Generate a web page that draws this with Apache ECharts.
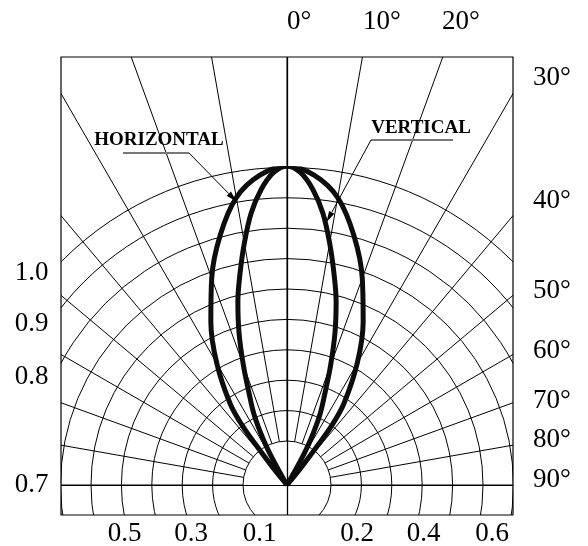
<!DOCTYPE html>
<html>
<head>
<meta charset="utf-8">
<script src="https://cdn.jsdelivr.net/npm/echarts@6.0.0/dist/echarts.min.js"></script>
<style>
html, body { margin: 0; padding: 0; background: #fff; }
#chart { width: 588px; height: 546px; }
</style>
</head>
<body>
<div id="chart"></div>
<script>
// relative intensity vs. angle (deg, 0 = straight up)
var hAngles = [-40, -39, -38, -37, -35, -30, -25, -20, -15, -10, -5, 0, 5, 10, 15, 20, 25, 30, 35, 37, 38, 39, 40];
var hValues = [0, 0.07, 0.14, 0.23, 0.31, 0.44, 0.565, 0.69, 0.81, 0.915, 0.975, 1.0, 0.975, 0.915, 0.81, 0.69, 0.565, 0.44, 0.31, 0.23, 0.14, 0.07, 0];
var vAngles = [-30.5, -29, -27.5, -25, -22.5, -20, -17.5, -15, -12.5, -10, -7.5, -5, -2.5, 0, 2.5, 5, 7.5, 10, 12.5, 15, 17.5, 20, 22.5, 25, 27.5, 29, 30.5];
var vValues = [0, 0.09, 0.16, 0.245, 0.31, 0.40, 0.50, 0.595, 0.68, 0.77, 0.86, 0.93, 0.98, 1.0, 0.98, 0.93, 0.86, 0.77, 0.68, 0.595, 0.50, 0.40, 0.31, 0.245, 0.16, 0.09, 0];

var topLabels = ['0°', '10°', '20°'];
var rightLabels = ['30°', '40°', '50°', '60°', '70°', '80°', '90°'];
var leftLabels = ['1.0', '0.9', '0.8', '0.7'];
var bottomLabels = ['0.5', '0.3', '0.1', '0.2', '0.4', '0.6'];
var ringCount = 9;

// layout
var frame = { x: 61, y: 57, w: 452, h: 458 };
var below = 30;                       // origin sits this far above the frame bottom
var cx = frame.x + frame.w / 2, cy = frame.y + frame.h - below;
var innerR = 44, ringStep = 30.4, peakR = 319;
var topPos = [287, 363, 442], topY = 22;
var rightPos = [78, 201, 291, 351, 401, 440, 480], rightX = 533;
var leftPos = [273, 324, 377, 485], leftX = 48.5;
var bottomPos = [124.5, 191, 259.5, 357, 423.5, 492], bottomY = 534;
var font = '"Liberation Serif", "Times New Roman", serif';

var chart = echarts.init(document.getElementById('chart'));

function toPolar(angles, values) {
    return angles.map(function (a, i) { return [values[i], a]; });
}

function arrow(x1, y1, x2, y2) {
    var dx = x2 - x1, dy = y2 - y1, len = Math.sqrt(dx * dx + dy * dy);
    var ux = dx / len, uy = dy / len, L = 11, W = 3;
    var bx = x2 - ux * L, by = y2 - uy * L;
    return [
        { type: 'line', z: 103, shape: { x1: x1, y1: y1, x2: bx, y2: by }, style: { stroke: '#000', lineWidth: 1 } },
        { type: 'polygon', z: 103, shape: { points: [[x2, y2], [bx - uy * W, by + ux * W], [bx + uy * W, by - ux * W]] }, style: { fill: '#000' } }
    ];
}

var graphics = [
    { type: 'rect', z: 100, shape: { x: 0, y: 0, width: 588, height: frame.y }, style: { fill: '#fff' } },
    { type: 'rect', z: 100, shape: { x: 0, y: 0, width: frame.x, height: 546 }, style: { fill: '#fff' } },
    { type: 'rect', z: 100, shape: { x: frame.x + frame.w, y: 0, width: 100, height: 546 }, style: { fill: '#fff' } },
    { type: 'rect', z: 100, shape: { x: 0, y: frame.y + frame.h, width: 588, height: 60 }, style: { fill: '#fff' } },
    { type: 'rect', z: 101, shape: { x: frame.x, y: frame.y, width: frame.w, height: frame.h }, style: { fill: 'none', stroke: '#000', lineWidth: 1.2 } }
];
topLabels.forEach(function (t, i) {
    graphics.push({ type: 'text', z: 102, x: topPos[i], y: topY, style: { text: t, font: '27px ' + font, fill: '#000', textAlign: 'left', textVerticalAlign: 'middle' } });
});
rightLabels.forEach(function (t, i) {
    graphics.push({ type: 'text', z: 102, x: rightX, y: rightPos[i], style: { text: t, font: '27px ' + font, fill: '#000', textAlign: 'left', textVerticalAlign: 'middle' } });
});
leftLabels.forEach(function (t, i) {
    graphics.push({ type: 'text', z: 102, x: leftX, y: leftPos[i], style: { text: t, font: '27px ' + font, fill: '#000', textAlign: 'right', textVerticalAlign: 'middle' } });
});
bottomLabels.forEach(function (t, i) {
    graphics.push({ type: 'text', z: 102, x: bottomPos[i], y: bottomY, style: { text: t, font: '27px ' + font, fill: '#000', textAlign: 'center', textVerticalAlign: 'middle' } });
});

// callouts
graphics.push({ type: 'text', z: 103, x: 159, y: 140, style: { text: 'HORIZONTAL', font: 'bold 19px ' + font, fill: '#000', textAlign: 'center', textVerticalAlign: 'middle' } });
graphics.push({ type: 'line', z: 103, shape: { x1: 123, y1: 153, x2: 189, y2: 153 }, style: { stroke: '#777', lineWidth: 2 } });
graphics = graphics.concat(arrow(189, 153, 236.5, 201.5));
graphics.push({ type: 'text', z: 103, x: 421, y: 128, style: { text: 'VERTICAL', font: 'bold 19px ' + font, fill: '#000', textAlign: 'center', textVerticalAlign: 'middle' } });
graphics.push({ type: 'line', z: 103, shape: { x1: 371, y1: 140, x2: 453, y2: 140 }, style: { stroke: '#777', lineWidth: 2 } });
graphics = graphics.concat(arrow(371, 140, 326.5, 222));

var hidden = { show: false };

var option = {
    animation: false,
    backgroundColor: '#fff',
    grid: { left: frame.x, top: frame.y, width: frame.w, height: frame.h, show: false },
    xAxis: {
        type: 'value', min: -frame.w / 2, max: frame.w / 2,
        axisLine: { onZero: true, lineStyle: { color: '#000', width: 1 } },
        axisTick: hidden, axisLabel: hidden, splitLine: hidden
    },
    yAxis: {
        type: 'value', min: -below, max: frame.h - below,
        axisLine: { onZero: true, lineStyle: { color: '#000', width: 1.3 } },
        axisTick: hidden, axisLabel: hidden, splitLine: hidden
    },
    polar: [
        { center: [cx, cy], radius: [innerR, innerR + ringStep * ringCount] },
        { center: [cx, cy], radius: [innerR, 520] },
        { center: [cx, cy], radius: [0, peakR] }
    ],
    radiusAxis: [
        {
            polarIndex: 0, type: 'value', min: 0, max: ringCount, interval: 1,
            axisLine: hidden, axisTick: hidden, axisLabel: hidden,
            splitLine: { show: true, lineStyle: { color: '#000', width: 1 } }
        },
        { polarIndex: 1, type: 'value', show: false },
        { polarIndex: 2, type: 'value', min: 0, max: 1, show: false }
    ],
    angleAxis: [
        { polarIndex: 0, type: 'value', show: false },
        {
            polarIndex: 1, type: 'value', min: -90, max: 90, interval: 10,
            startAngle: 180, endAngle: 0, clockwise: true,
            axisLine: hidden, axisTick: hidden, axisLabel: hidden,
            splitLine: { show: true, lineStyle: { color: '#000', width: 1 } }
        },
        { polarIndex: 2, type: 'value', min: -180, max: 180, startAngle: 270, clockwise: true, show: false }
    ],
    series: [
        {
            name: 'HORIZONTAL', type: 'line', coordinateSystem: 'polar', polarIndex: 2,
            data: toPolar(hAngles, hValues), smooth: 0.35, symbol: 'none', silent: true, z: 5,
            lineStyle: { color: '#0d0d0d', width: 5 }
        },
        {
            name: 'VERTICAL', type: 'line', coordinateSystem: 'polar', polarIndex: 2,
            data: toPolar(vAngles, vValues), smooth: 0.35, symbol: 'none', silent: true, z: 5,
            lineStyle: { color: '#0d0d0d', width: 5 }
        }
    ],
    graphic: graphics
};
chart.setOption(option);
</script>
</body>
</html>
